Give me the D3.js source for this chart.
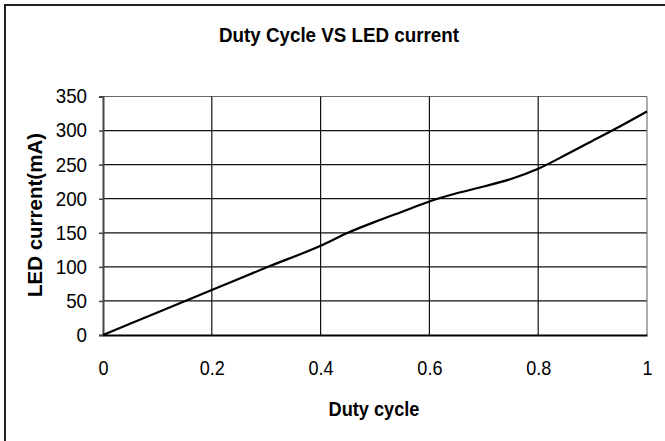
<!DOCTYPE html>
<html>
    <head>
        <title>Duty Cycle VS LED current</title>
        <script src="https://d3js.org/d3.v7.min.js"></script>
        <style>
            body { margin: 0; background: #fff; }
            svg { display: block; font-family: "Liberation Sans", Arial, sans-serif; }
        </style>
    </head>
    <body>
        <script>
            var duty = [0, 0.1, 0.2, 0.3, 0.4, 0.45, 0.5, 0.55, 0.6, 0.65, 0.7, 0.75, 0.8, 0.85, 0.9, 0.95, 1];
            var current = [0, 33, 66, 99, 131, 150, 166, 181, 196, 208, 218, 229, 244, 264, 285, 306, 328];
            var xTicks = [0, 0.2, 0.4, 0.6, 0.8, 1];
            var yTicks = [0, 50, 100, 150, 200, 250, 300, 350];

            var width = 665;
            var height = 441;

            var x = d3.scaleLinear().domain([0, 1]).range([103, 647]);
            var y = d3.scaleLinear().domain([0, 350]).range([335, 96.5]);

            var svg = d3.select("body")
                        .append("svg")
                        .attr("width", width)
                        .attr("height", height);

            // outer frame (cropped at right and bottom)
            svg.append("path")
               .attr("d", "M5,460 L5,5 L700,5")
               .attr("fill", "none")
               .attr("stroke", "#222")
               .attr("stroke-width", 2);

            // gridlines
            svg.append("g")
               .selectAll("line.h")
               .data(yTicks.slice(1))
               .enter()
                  .append("line")
                  .attr("x1", x(0)).attr("x2", x(1))
                  .attr("y1", function(d){ return y(d); })
                  .attr("y2", function(d){ return y(d); })
                  .attr("stroke", function(d){ return d == 350 ? "#666" : "#111"; })
                  .attr("stroke-width", 1.2);

            svg.append("g")
               .selectAll("line.v")
               .data(xTicks.slice(1))
               .enter()
                  .append("line")
                  .attr("x1", function(d){ return x(d); })
                  .attr("x2", function(d){ return x(d); })
                  .attr("y1", y(350)).attr("y2", y(0))
                  .attr("stroke", function(d){ return d == 1 ? "#777" : "#111"; })
                  .attr("stroke-width", 1.2);

            // axes
            var yAxis = d3.axisLeft(y).tickValues(yTicks).tickSize(4).tickPadding(13);
            var gy = svg.append("g")
                        .attr("transform", "translate(" + x(0) + ",0)")
                        .call(yAxis);
            gy.select(".domain").attr("stroke", "#444").attr("stroke-width", 2);
            gy.selectAll(".tick line").attr("stroke", "#444").attr("stroke-width", 1.5);
            gy.selectAll(".tick text")
              .attr("font-size", 20)
              .attr("transform", "scale(0.94,1)")
              .attr("font-family", "Liberation Sans, Arial, sans-serif")
              .attr("fill", "#000");

            var xAxis = d3.axisBottom(x).tickValues(xTicks).tickSize(0).tickPadding(25)
                          .tickFormat(d3.format(""));
            var gx = svg.append("g")
                        .attr("transform", "translate(0," + y(0) + ")")
                        .call(xAxis);
            gx.select(".domain").attr("stroke", "#000").attr("stroke-width", 2);
            gx.selectAll(".tick text")
              .attr("font-size", 20.5)
              .attr("transform", "scale(0.88,1)")
              .attr("font-family", "Liberation Sans, Arial, sans-serif")
              .attr("fill", "#000");

            // curve
            var line = d3.line()
                         .x(function(d, i){ return x(duty[i]); })
                         .y(function(d){ return y(d); })
                         .curve(d3.curveMonotoneX);

            svg.append("path")
               .datum(current)
               .attr("d", line)
               .attr("fill", "none")
               .attr("stroke", "#000")
               .attr("stroke-width", 2.2);

            // titles
            svg.append("text")
               .attr("x", 339).attr("y", 42)
               .attr("text-anchor", "middle")
               .attr("font-size", 20)
               .attr("font-weight", "bold")
               .attr("textLength", 240)
               .attr("lengthAdjust", "spacingAndGlyphs")
               .text("Duty Cycle VS LED current");

            svg.append("text")
               .attr("x", 374).attr("y", 416)
               .attr("text-anchor", "middle")
               .attr("font-size", 21)
               .attr("font-weight", "bold")
               .attr("textLength", 91)
               .attr("lengthAdjust", "spacingAndGlyphs")
               .text("Duty cycle");

            svg.append("text")
               .attr("transform", "translate(42,215) rotate(-90)")
               .attr("text-anchor", "middle")
               .attr("font-size", 20.5)
               .attr("font-weight", "bold")
               .text("LED current(mA)");
        </script>
    </body>
</html>
